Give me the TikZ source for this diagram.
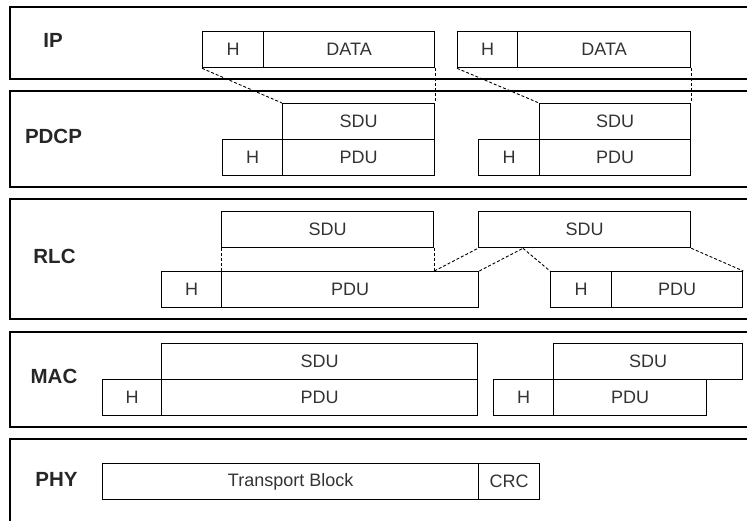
\documentclass[tikz,border=0pt]{standalone}
\usepackage{fontspec}
\setmainfont{Liberation Sans}
\begin{document}
\begin{tikzpicture}[x=1pt,y=-1pt,
  pbox/.style={draw=black, line width=1.3pt, inner sep=0pt, minimum height=36pt, anchor=north west,
    text=black!80, font=\fontsize{18}{20}\selectfont},
  layer/.style={draw=black, line width=1.4pt},
  lname/.style={text=black!85, font=\fontsize{20.5}{22}\selectfont\bfseries, inner sep=0pt},
  dl/.style={draw=black, line width=0.9pt, dash pattern=on 3pt off 2pt}]
\useasboundingbox (0,0) rectangle (747,521);
% layer bands
\draw[layer] (747,7) -- (10,7) -- (10,79) -- (747,79);
\draw[layer] (747,91) -- (10,91) -- (10,187) -- (747,187);
\draw[layer] (747,199) -- (10,199) -- (10,319) -- (747,319);
\draw[layer] (747,332) -- (10,332) -- (10,427) -- (747,427);
\draw[layer] (747,439) -- (10,439) -- (10,521);
% layer names
\node[lname] (lip) at (53,40) {IP};
\node[lname] (lpdcp) at (53.5,136) {PDCP};
\node[lname] (lrlc) at (54.5,256) {RLC};
\node[lname] (lmac) at (54,376) {MAC};
\node[lname] (lphy) at (56.5,479) {PHY};
% IP
\node[pbox, minimum width=61pt] (ipH1) at (202,31) {H};
\node[pbox, minimum width=171pt] (ipD1) at (263,31) {DATA};
\node[pbox, minimum width=60pt] (ipH2) at (457,31) {H};
\node[pbox, minimum width=173pt] (ipD2) at (517,31) {DATA};
% PDCP
\node[pbox, minimum width=152pt] (pdS1) at (282,103) {SDU};
\node[pbox, minimum width=60pt] (pdH1) at (222,139) {H};
\node[pbox, minimum width=152pt] (pdP1) at (282,139) {PDU};
\node[pbox, minimum width=151pt] (pdS2) at (539,103) {SDU};
\node[pbox, minimum width=61pt] (pdH2) at (478,139) {H};
\node[pbox, minimum width=151pt] (pdP2) at (539,139) {PDU};
% RLC
\node[pbox, minimum width=212pt] (rlS1) at (221,211) {SDU};
\node[pbox, minimum width=60pt] (rlH1) at (161,271) {H};
\node[pbox, minimum width=257pt] (rlP1) at (221,271) {PDU};
\node[pbox, minimum width=212pt] (rlS2) at (478,211) {SDU};
\node[pbox, minimum width=61pt] (rlH2) at (550,271) {H};
\node[pbox, minimum width=131pt] (rlP2) at (611,271) {PDU};
% MAC
\node[pbox, minimum width=316pt] (maS1) at (161,343) {SDU};
\node[pbox, minimum width=59pt] (maH1) at (102,379) {H};
\node[pbox, minimum width=316pt] (maP1) at (161,379) {PDU};
\node[pbox, minimum width=189pt] (maS2) at (553,343) {SDU};
\node[pbox, minimum width=60pt] (maH2) at (493,379) {H};
\node[pbox, minimum width=153pt] (maP2) at (553,379) {PDU};
% PHY
\node[pbox, minimum width=376pt] (tb) at (102,463) {Transport Block};
\node[pbox, minimum width=61pt] (crc) at (478,463) {CRC};
% dashed mappings
\draw[dl] (ipH1.south west) -- (pdS1.north west);
\draw[dl] (ipD1.south east) -- (pdS1.north east);
\draw[dl] (ipH2.south west) -- (pdS2.north west);
\draw[dl] (ipD2.south east) -- (pdS2.north east);
\coordinate (cut) at (rlS1.south east |- rlP1.north);
\path (rlS2.south west) ++(45,0) coordinate (split);
\draw[dl] (rlS1.south west) -- (rlP1.north west);
\draw[dl] (rlS1.south east) -- (cut);
\draw[dl] (cut) -- (rlS2.south west);
\draw[dl] (rlP1.north east) -- (split);
\draw[dl] (split) -- (rlH2.north west);
\draw[dl] (rlS2.south east) -- (rlP2.north east);
\end{tikzpicture}
\end{document}
